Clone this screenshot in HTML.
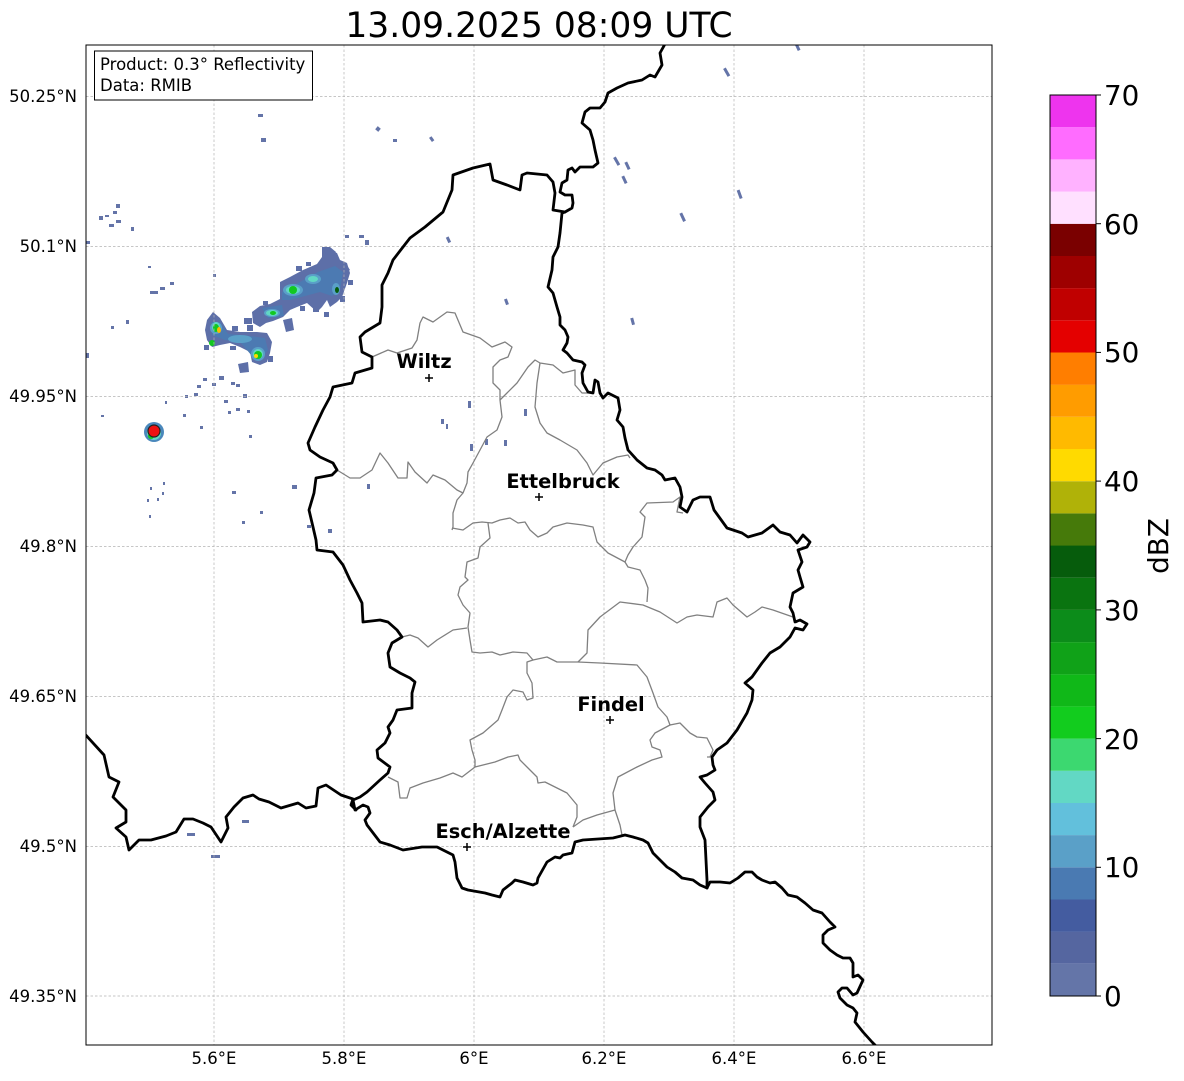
<!DOCTYPE html>
<html><head><meta charset="utf-8"><style>
html,body{margin:0;padding:0;background:#fff;}
svg{display:block;font-family:"DejaVu Sans","Liberation Sans",sans-serif;}
</style></head><body>
<svg width="1184" height="1081" viewBox="0 0 1184 1081" xmlns="http://www.w3.org/2000/svg">
<rect x="0" y="0" width="1184" height="1081" fill="#fff"/>
<defs><clipPath id="ax"><rect x="86" y="45" width="906" height="1000"/></clipPath></defs>
<text x="539" y="37" font-size="34.5" text-anchor="middle" fill="#000">13.09.2025 08:09 UTC</text>
<g clip-path="url(#ax)">
<!-- echoes main bands -->
<g fill="#5d6fa8">
<polygon points="280,282 290,277 303,270 317,264 322,257 322,247 328,250 337,253 340,260 347,263 350,273 347,283 342,297 337,302 330,307 327,300 322,307 317,312 307,303 297,307 290,310 283,317 273,321 266,323 260,327 253,323 252,312 260,306 270,304 280,299"/>
<polygon points="207,320 213,312 220,318 227,330 240,332 257,332 267,333 272,342 270,353 267,362 260,365 252,362 250,352 240,347 230,343 220,345 212,347 207,340 205,330"/>
<polygon points="322,247 330,247 336,252 333,256 326,254"/>
<polygon points="345,262 350,270 346,272"/>
<polygon points="238,364 248,362 249,372 240,373"/>
<polygon points="283,320 292,318 294,330 286,332"/>
<rect x="296" y="266" width="6" height="5"/><rect x="306" y="262" width="5" height="4"/>
<rect x="313" y="306" width="6" height="6"/><rect x="300" y="306" width="5" height="5"/>
<rect x="340" y="296" width="5" height="6"/><rect x="348" y="280" width="5" height="5"/>
<rect x="244" y="318" width="8" height="6"/><rect x="247" y="325" width="6" height="6"/>
<rect x="232" y="326" width="6" height="5"/><rect x="268" y="356" width="5" height="6"/>
<rect x="204" y="345" width="5" height="5"/><rect x="230" y="346" width="6" height="4"/>
<rect x="263" y="301" width="5" height="4"/><rect x="324" y="312" width="5" height="5"/>
</g>
<g fill="#4c7ab2">
<polygon points="282,292 300,282 318,272 335,266 343,272 340,290 332,296 320,292 305,296 290,300 282,300"/>
<polygon points="212,322 220,322 228,334 250,336 265,338 268,350 260,360 252,356 240,342 225,340 212,335"/>
<polygon points="262,308 282,305 284,316 268,318"/>
</g>
<g fill="#5aa0c8">
<ellipse cx="293" cy="290" rx="10" ry="6"/>
<ellipse cx="313" cy="279" rx="8" ry="5"/>
<ellipse cx="272" cy="313" rx="8" ry="4"/>
<ellipse cx="240" cy="339" rx="12" ry="4"/>
<ellipse cx="216" cy="328" rx="6" ry="6"/>
<ellipse cx="258" cy="354" rx="7" ry="7"/>
<ellipse cx="336" cy="289" rx="4" ry="6"/>
</g>
<g fill="#62d8c4">
<ellipse cx="313" cy="279" rx="5" ry="3"/>
<ellipse cx="293" cy="290" rx="7" ry="4"/>
<ellipse cx="272" cy="313" rx="6" ry="3"/>
<ellipse cx="216" cy="327" rx="4" ry="5"/>
<ellipse cx="258" cy="354" rx="5" ry="5"/>
</g>
<g fill="#12c820">
<ellipse cx="293" cy="290" rx="4" ry="4"/>
<ellipse cx="273" cy="313" rx="3" ry="2"/>
<ellipse cx="216" cy="328" rx="3" ry="4"/>
<ellipse cx="212" cy="343" rx="3" ry="3"/>
<ellipse cx="258" cy="355" rx="4" ry="4"/>
</g>
<ellipse cx="337" cy="290" rx="2" ry="3" fill="#065c0c"/>
<ellipse cx="219" cy="330" rx="2" ry="3" fill="#ffba00"/>
<ellipse cx="256" cy="356" rx="2" ry="2" fill="#ffda00"/>
<!-- radar site -->
<circle cx="154" cy="432" r="10" fill="#4a88bc"/>
<circle cx="154" cy="433" r="7" fill="#62d8c4"/>
<circle cx="151" cy="436" r="3" fill="#12c820"/>
<!-- scattered small echoes -->
<g fill="#6474a8">
<rect x="258" y="114" width="5" height="3"/><rect x="261" y="138" width="5" height="4"/>
<rect x="376" y="127" width="4" height="4" transform="rotate(40 378 129)"/>
<rect x="393" y="139" width="4" height="3"/><rect x="430" y="137" width="3" height="5" transform="rotate(-35 431 139)"/>
<rect x="116" y="204" width="4" height="4"/><rect x="113" y="211" width="4" height="3"/><rect x="99" y="216" width="4" height="4"/>
<rect x="105" y="215" width="4" height="2"/><rect x="109" y="224" width="5" height="3"/><rect x="116" y="220" width="5" height="3"/>
<rect x="131" y="227" width="3" height="4"/><rect x="86" y="241" width="4" height="3"/>
<rect x="148" y="266" width="3" height="2"/><rect x="150" y="291" width="8" height="3"/><rect x="160" y="287" width="5" height="3"/>
<rect x="170" y="282" width="4" height="3"/><rect x="213" y="274" width="3" height="3"/>
<rect x="111" y="326" width="3" height="3"/><rect x="126" y="320" width="3" height="4"/><rect x="86" y="353" width="3" height="5"/>
<rect x="345" y="235" width="4" height="3"/><rect x="359" y="235" width="5" height="3"/><rect x="365" y="240" width="4" height="5"/>
<rect x="447" y="237" width="3" height="6" transform="rotate(-25 448 240)"/>
<rect x="505" y="299" width="3" height="6" transform="rotate(-20 506 302)"/>
<rect x="631" y="318" width="3" height="7" transform="rotate(-15 632 321)"/>
<rect x="615" y="157" width="3" height="9" transform="rotate(-30 616 161)"/>
<rect x="626" y="162" width="3" height="8" transform="rotate(-25 627 166)"/>
<rect x="623" y="176" width="3" height="8" transform="rotate(-25 624 180)"/>
<rect x="738" y="190" width="3" height="9" transform="rotate(-20 739 194)"/>
<rect x="681" y="213" width="3" height="9" transform="rotate(-25 682 217)"/>
<rect x="725" y="68" width="3" height="9" transform="rotate(-30 726 72)"/>
<rect x="796" y="44" width="3" height="7" transform="rotate(-25 797 47)"/>
<rect x="468" y="401" width="3" height="7"/><rect x="441" y="419" width="3" height="5"/><rect x="446" y="424" width="2" height="5"/>
<rect x="470" y="444" width="3" height="7"/><rect x="485" y="439" width="3" height="6"/><rect x="504" y="440" width="3" height="6"/>
<rect x="524" y="409" width="3" height="7"/><rect x="367" y="484" width="3" height="5"/>
<rect x="197" y="385" width="4" height="3"/><rect x="194" y="393" width="4" height="3"/><rect x="185" y="395" width="3" height="3"/>
<rect x="212" y="383" width="4" height="3"/><rect x="219" y="376" width="5" height="4"/><rect x="203" y="378" width="4" height="3"/>
<rect x="231" y="382" width="4" height="3"/><rect x="236" y="384" width="4" height="3"/><rect x="243" y="394" width="4" height="4"/>
<rect x="224" y="400" width="4" height="3"/><rect x="236" y="408" width="4" height="3"/><rect x="228" y="411" width="3" height="3"/>
<rect x="247" y="410" width="3" height="3"/><rect x="165" y="401" width="2" height="3"/><rect x="183" y="414" width="3" height="3"/>
<rect x="200" y="426" width="3" height="3"/><rect x="101" y="415" width="3" height="2"/><rect x="249" y="435" width="3" height="3"/>
<rect x="292" y="485" width="5" height="4"/><rect x="232" y="491" width="4" height="3"/><rect x="260" y="511" width="3" height="3"/>
<rect x="242" y="521" width="3" height="3"/><rect x="328" y="529" width="4" height="4"/><rect x="307" y="525" width="4" height="3"/>
<rect x="150" y="487" width="2" height="3"/><rect x="163" y="482" width="2" height="3"/><rect x="147" y="499" width="2" height="3"/>
<rect x="157" y="498" width="2" height="3"/><rect x="149" y="515" width="2" height="3"/><rect x="162" y="492" width="2" height="3"/>
<rect x="187" y="833" width="8" height="3"/><rect x="242" y="820" width="7" height="3"/><rect x="211" y="855" width="9" height="3"/>
</g>
<!-- gridlines -->
<g stroke="#b4b4b4" stroke-width="0.7" stroke-dasharray="2.5,2" fill="none">
<line x1="86" y1="96.5" x2="992" y2="96.5"/><line x1="86" y1="246.5" x2="992" y2="246.5"/>
<line x1="86" y1="396.5" x2="992" y2="396.5"/><line x1="86" y1="546.5" x2="992" y2="546.5"/>
<line x1="86" y1="696.5" x2="992" y2="696.5"/><line x1="86" y1="846.5" x2="992" y2="846.5"/>
<line x1="86" y1="996" x2="992" y2="996"/>
<line x1="214" y1="45" x2="214" y2="1045"/><line x1="344" y1="45" x2="344" y2="1045"/>
<line x1="474" y1="45" x2="474" y2="1045"/><line x1="604" y1="45" x2="604" y2="1045"/>
<line x1="734" y1="45" x2="734" y2="1045"/><line x1="864" y1="45" x2="864" y2="1045"/>
</g>
<!-- canton borders -->
<g stroke="#808080" stroke-width="1.3" fill="none" stroke-linejoin="round">
<polyline points="372,357 388,350 397,353 412,348 417,340 420,323 423,317 433,322 447,312 455,313 463,332 480,338 492,347 505,342 512,347 508,357 500,360 493,367 493,383 500,390 500,400 502,417 497,430 487,437 480,450 473,463 468,472 467,483 463,493 457,500 453,513 453,527 452,530"/>
<polyline points="337,470 350,478 360,478 372,470 380,453 388,463 398,478 407,478 408,462 415,472 427,483 433,475 445,480 457,490 463,493"/>
<polyline points="500,400 507,393 517,383 528,367 535,360 540,363 553,365 563,373 575,370 575,385 582,393 593,393"/>
<polyline points="540,363 537,383 535,407 540,423 547,433 560,440 577,450 587,463 593,475 603,463 617,457 628,455 630,458"/>
<polyline points="452,528 463,530 473,523 482,522 492,523 500,520 510,518 518,523 525,522 530,530 538,537 547,533 553,527 567,523 583,525 593,527 597,542 608,553 625,562 628,555 633,547 642,537 645,517 640,512 647,503 673,502 680,497 677,512 683,513"/>
<polyline points="488,523 490,538 480,547 478,558 467,562 465,577 468,580 460,587 458,595 463,605 470,613 468,627 470,640 472,652 480,653 492,652 500,655 513,652 527,653 533,660 547,657 557,662 578,662"/>
<polyline points="578,662 587,653 588,630 600,617 620,602 643,605 660,612 677,623 687,617 697,615 713,617 717,602 727,598 733,605 747,617 755,612 762,607 773,610 793,617 797,623"/>
<polyline points="625,562 628,567 640,570 645,580 648,588 647,602"/>
<polyline points="578,662 600,663 637,665 647,677 653,693 658,707 667,717 670,725 680,723 690,733 697,737 707,738 713,750 710,757 707,757"/>
<polyline points="533,660 527,662 527,673 532,683 533,698 527,700 523,692 513,690 507,697 502,710 498,720 483,733 470,740 472,750 475,760 475,767 495,762 508,757 518,755 520,760 527,767 537,777 538,783 545,782 567,793 577,805 577,817 573,827"/>
<polyline points="573,827 583,820 597,815 615,810 620,825 622,835"/>
<polyline points="615,810 613,793 618,777 637,767 652,760 662,757 660,750 652,747 650,740 655,733 670,725"/>
<polyline points="475,767 462,777 453,773 440,778 423,783 410,788 407,798 400,798 398,782 388,777"/>
<polyline points="402,637 410,635 418,638 428,647 437,640 453,630 467,628"/>
</g>
<!-- country borders -->
<g stroke="#000" stroke-width="2.8" fill="none" stroke-linejoin="round" stroke-linecap="round">
<polyline points="665,44 660,53 662,65 655,77 650,75 642,80 628,83 617,88 608,93 605,102 600,108 590,108 585,112 582,123 590,130 593,140 595,150 598,163 593,167 580,167 575,172 572,168 568,170 567,180 562,183 560,192 565,195 572,195 573,203 572,208 565,212 562,213 560,233 558,247 553,257 552,270 548,287 553,293 557,307 560,317 560,325 565,330 568,337 567,343 563,350 567,353 573,360 582,362 585,365 582,373 583,383 588,392 593,393 595,380 598,382 600,393 603,398 608,393 618,398 620,410 617,420 623,427 625,438 628,450 637,460 647,468 655,470 662,475 665,480 675,478 680,487 682,497 680,507 687,512 693,500 700,497 710,497 714,510 727,528 742,533 748,537 762,533 773,525 780,532 790,535 797,543 803,535 810,542 807,547 798,550 802,562 798,570 800,577 803,587 793,593 790,607 793,613 795,622 800,620 807,624 803,630 795,628 790,637 780,647 770,653 762,663 752,677 745,683 753,690 752,700 747,713 737,730 727,743 717,750 712,757 713,765 715,770 707,775 700,777 705,783 713,792 715,800 708,807 700,817 700,827 705,840 707,880 707,888"/>
<polyline points="565,212 553,210 555,193 553,182 547,175 527,173 522,175 520,190 507,185 493,180 490,164 473,168 453,175 452,190 443,212 425,227 410,238 403,247 393,260 388,273 382,285 382,307 380,323 365,332 360,337 362,352 372,357 372,368 355,373 352,383 333,387 330,397 323,410 315,427 308,443 310,450 320,457 333,463 337,470 332,475 316,478 314,493 309,510 313,527 316,540 317,550 333,552 343,565 350,580 357,593 362,603 363,622 380,620 388,622 397,630 402,637 392,643 388,653 390,667 400,673 410,678 415,682 412,693 412,708 397,710 393,720 388,727 390,733 385,743 377,750 378,758 390,767 388,773 380,780 367,792 360,797 353,800"/>
<polyline points="353,800 355,810 363,805 368,807 370,813 365,820 367,825 380,842 390,845 403,850 422,847 437,847 447,852 453,855 455,862 457,878 462,888 468,890 485,893 492,895 500,897 503,890 512,883 515,880 523,882 533,885 537,883 538,878 547,862 555,857 560,858 563,855 572,853 575,842 583,840 613,838 625,835 633,837 643,840 648,843 653,853 662,862 667,867 675,872 682,878 693,880 700,885 707,888 710,882 720,882 730,883 738,878 745,872 752,872 757,877 762,880 770,883 775,882 782,888 788,895 797,897 805,903 813,910 822,913 830,922 835,927 828,930 823,935 823,943 830,950 837,955 843,958 850,958 853,963 853,977 858,975 863,980 857,993 853,995 847,988 842,988 838,992 840,998 847,1005 853,1008 857,1013 855,1022 863,1032 872,1042 880,1050"/>
<polyline points="82,731 104,755 109,777 119,782 113,797 126,810 126,822 116,828 126,837 129,850 139,840 151,840 166,836 176,832 184,819 193,819 203,823 211,827 221,842 228,828 226,817 234,807 243,798 253,795 259,799 269,802 281,808 298,803 306,808 316,806 318,788 326,785 341,795 353,799 351,805 356,810"/>
</g>
<!-- radar dot -->
<circle cx="154" cy="431" r="6" fill="#ee1111" stroke="#222" stroke-width="1.2"/>
</g>
<!-- cities -->
<g stroke="#000" stroke-width="1.5">
<line x1="425" y1="378" x2="433" y2="378"/><line x1="429" y1="374" x2="429" y2="382"/>
<line x1="535" y1="497" x2="543" y2="497"/><line x1="539" y1="493" x2="539" y2="501"/>
<line x1="606" y1="720" x2="614" y2="720"/><line x1="610" y1="716" x2="610" y2="724"/>
<line x1="463" y1="847" x2="471" y2="847"/><line x1="467" y1="843" x2="467" y2="851"/>
</g>
<g font-size="19.4" font-weight="bold" fill="#000" text-anchor="middle">
<text x="424" y="368">Wiltz</text>
<text x="563" y="488">Ettelbruck</text>
<text x="611" y="711">Findel</text>
<text x="503" y="838">Esch/Alzette</text>
</g>
<!-- annotation -->
<rect x="94.5" y="51" width="218" height="49" fill="#fff" stroke="#000" stroke-width="1"/>
<text x="100" y="70" font-size="16.5" fill="#000">Product: 0.3° Reflectivity</text>
<text x="100" y="91" font-size="16.5" fill="#000">Data: RMIB</text>
<!-- frame -->
<rect x="86" y="45" width="906" height="1000" fill="none" stroke="#000" stroke-width="1"/>
<!-- tick labels -->
<g font-size="16.5" fill="#000" text-anchor="end">
<text x="77" y="102">50.25°N</text><text x="77" y="252">50.1°N</text><text x="77" y="402">49.95°N</text>
<text x="77" y="552">49.8°N</text><text x="77" y="702">49.65°N</text><text x="77" y="852">49.5°N</text>
<text x="77" y="1002">49.35°N</text>
</g>
<g font-size="16.5" fill="#000" text-anchor="middle">
<text x="214" y="1064">5.6°E</text><text x="344" y="1064">5.8°E</text><text x="474" y="1064">6°E</text>
<text x="604" y="1064">6.2°E</text><text x="734" y="1064">6.4°E</text><text x="864" y="1064">6.6°E</text>
</g>
<!-- colorbar -->
<g>
<rect x="1050" y="963.8" width="46" height="32.2" fill="#6475a8"/>
<rect x="1050" y="931.6" width="46" height="32.2" fill="#5566a0"/>
<rect x="1050" y="899.5" width="46" height="32.2" fill="#445ca0"/>
<rect x="1050" y="867.3" width="46" height="32.2" fill="#4a7ab2"/>
<rect x="1050" y="835.1" width="46" height="32.2" fill="#5aa0c8"/>
<rect x="1050" y="802.9" width="46" height="32.2" fill="#62c0dc"/>
<rect x="1050" y="770.8" width="46" height="32.2" fill="#62d8c4"/>
<rect x="1050" y="738.6" width="46" height="32.2" fill="#3cd870"/>
<rect x="1050" y="706.4" width="46" height="32.2" fill="#12cc1e"/>
<rect x="1050" y="674.2" width="46" height="32.2" fill="#10b818"/>
<rect x="1050" y="642.1" width="46" height="32.2" fill="#10a218"/>
<rect x="1050" y="609.9" width="46" height="32.2" fill="#0c8c1a"/>
<rect x="1050" y="577.7" width="46" height="32.2" fill="#0a7410"/>
<rect x="1050" y="545.5" width="46" height="32.2" fill="#065c0c"/>
<rect x="1050" y="513.4" width="46" height="32.2" fill="#467a0a"/>
<rect x="1050" y="481.2" width="46" height="32.2" fill="#b0b208"/>
<rect x="1050" y="449.0" width="46" height="32.2" fill="#ffda00"/>
<rect x="1050" y="416.8" width="46" height="32.2" fill="#ffba00"/>
<rect x="1050" y="384.6" width="46" height="32.2" fill="#ff9c00"/>
<rect x="1050" y="352.5" width="46" height="32.2" fill="#ff7e00"/>
<rect x="1050" y="320.3" width="46" height="32.2" fill="#e40000"/>
<rect x="1050" y="288.1" width="46" height="32.2" fill="#c00000"/>
<rect x="1050" y="255.9" width="46" height="32.2" fill="#9e0000"/>
<rect x="1050" y="223.8" width="46" height="32.2" fill="#7a0000"/>
<rect x="1050" y="191.6" width="46" height="32.2" fill="#ffe0ff"/>
<rect x="1050" y="159.4" width="46" height="32.2" fill="#ffb2ff"/>
<rect x="1050" y="127.2" width="46" height="32.2" fill="#ff6cff"/>
<rect x="1050" y="95" width="46" height="32.2" fill="#ee34ee"/>
<rect x="1050" y="95" width="46" height="901" fill="none" stroke="#000" stroke-width="1"/>
</g>
<g stroke="#000" stroke-width="1">
<line x1="1096" y1="996" x2="1101" y2="996"/><line x1="1096" y1="867.3" x2="1101" y2="867.3"/>
<line x1="1096" y1="738.6" x2="1101" y2="738.6"/><line x1="1096" y1="609.9" x2="1101" y2="609.9"/>
<line x1="1096" y1="481.1" x2="1101" y2="481.1"/><line x1="1096" y1="352.4" x2="1101" y2="352.4"/>
<line x1="1096" y1="223.7" x2="1101" y2="223.7"/><line x1="1096" y1="95" x2="1101" y2="95"/>
</g>
<g font-size="27.8" fill="#000">
<text x="1104" y="1006">0</text><text x="1104" y="877">10</text><text x="1104" y="749">20</text>
<text x="1104" y="620">30</text><text x="1104" y="491">40</text><text x="1104" y="362">50</text>
<text x="1104" y="234">60</text><text x="1104" y="105">70</text>
</g>
<text x="1168" y="546" font-size="27.8" fill="#000" text-anchor="middle" transform="rotate(-90 1168 546)">dBZ</text>
</svg>
</body></html>
